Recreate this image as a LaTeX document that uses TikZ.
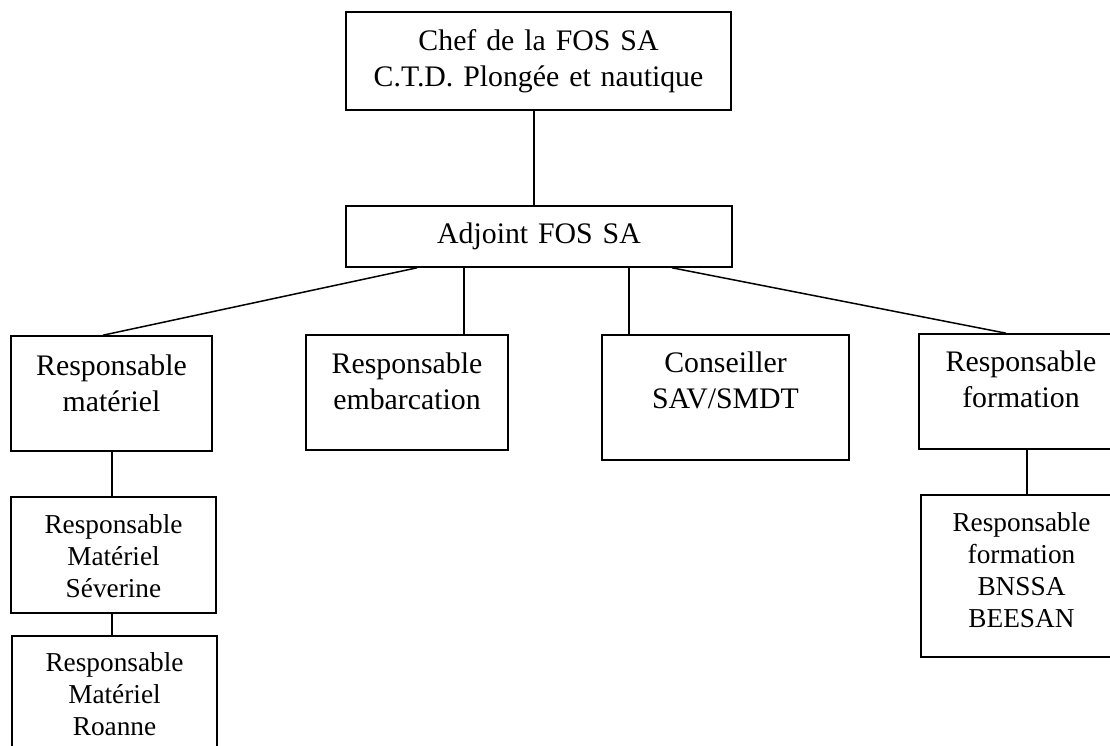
\documentclass[tikz,border=0pt]{standalone}
\usepackage{fontspec}
\setmainfont{Liberation Serif}
\tikzset{
  orgbox/.style={draw=black, line width=1.6pt, inner sep=0pt, minimum width=#1},
  big/.style={inner sep=0pt, align=center, anchor=base, font=\fontsize{29.8}{36.5}\selectfont},
  small/.style={inner sep=0pt, align=center, anchor=base, font=\fontsize{27.3}{32}\selectfont},
  link/.style={draw=black, line width=1.5pt}
}
\begin{document}
\begin{tikzpicture}[x=1pt,y=-1pt]
\useasboundingbox (0,0) rectangle (1110,746);
% boxes
\node[orgbox=385pt, minimum height=98pt] (chef) at (538.5,61) {};
\node[orgbox=386pt, minimum height=61pt] (adj) at (539,236.5) {};
\node[orgbox=201pt, minimum height=115pt] (mat) at (111.5,393.5) {};
\node[orgbox=202pt, minimum height=115pt] (emb) at (407,392.5) {};
\node[orgbox=247pt, minimum height=125pt] (cons) at (725.5,397.5) {};
\node[orgbox=204pt, minimum height=115pt] (form) at (1021,391.5) {};
\node[orgbox=205pt, minimum height=116pt] (sev) at (113.5,555) {};
\node[orgbox=205pt, minimum height=124pt] (roa) at (114.5,698) {};
\node[orgbox=201pt, minimum height=162pt] (bns) at (1021.5,576) {};
% texts
\node[big, text width=380pt] (chefT) at ([yshift=-39pt]chef.north) {Chef de la FOS SA\\C.T.D. Plongée et nautique};
\node[big, text width=380pt] (adjT) at ([yshift=-38pt]adj.north) {Adjoint FOS SA};
\node[big, text width=196pt] (matT) at ([yshift=-40pt]mat.north) {Responsable\\matériel};
\node[big, text width=196pt] (embT) at ([yshift=-39pt]emb.north) {Responsable\\embarcation};
\node[big, text width=240pt] (consT) at ([yshift=-38pt]cons.north) {Conseiller\\SAV/SMDT};
\node[big, text width=198pt] (formT) at ([yshift=-38pt]form.north) {Responsable\\formation};
\node[small, text width=198pt] (sevT) at ([yshift=-37pt]sev.north) {Responsable\\Matériel\\Séverine};
\node[small, text width=198pt] (roaT) at ([yshift=-36pt]roa.north) {Responsable\\Matériel\\Roanne};
\node[small, text width=196pt] (bnsT) at ([yshift=-37pt]bns.north) {Responsable\\formation\\BNSSA\\BEESAN};
% connectors
\draw[link] ([xshift=-4.5pt]chef.south) -- ([xshift=-4.5pt]chef.south |- adj.north);
\draw[link] ([xshift=-122pt]adj.south) -- ([xshift=-8.5pt]mat.north);
\draw[link] ([xshift=-75pt]adj.south) -- ([xshift=-75pt]adj.south |- emb.north);
\draw[link] ([xshift=90pt]adj.south) -- ([xshift=90pt]adj.south |- cons.north);
\draw[link] ([xshift=133pt]adj.south) -- ([xshift=-15pt]form.north);
\draw[link] ([xshift=0.5pt]mat.south) -- ([xshift=0.5pt]mat.south |- sev.north);
\draw[link] ([xshift=-1.5pt]sev.south) -- ([xshift=-1.5pt]sev.south |- roa.north);
\draw[link] ([xshift=6pt]form.south) -- ([xshift=6pt]form.south |- bns.north);
\end{tikzpicture}
\end{document}
